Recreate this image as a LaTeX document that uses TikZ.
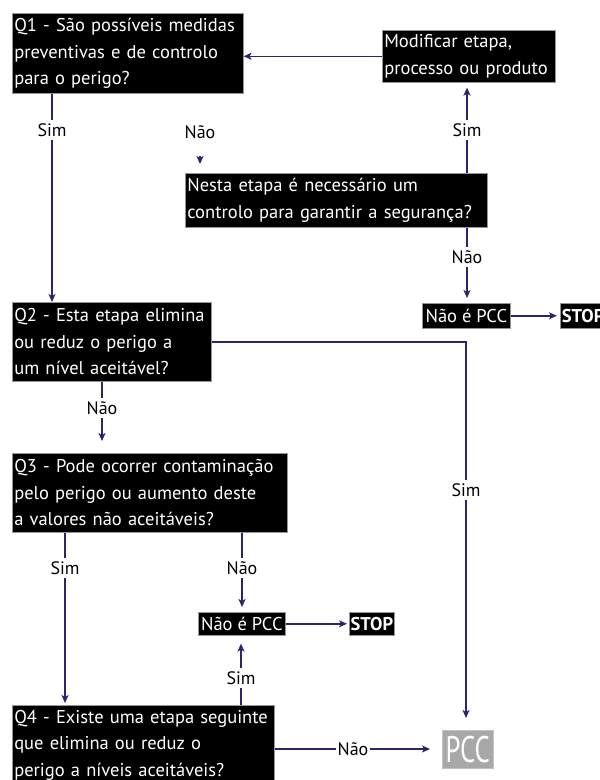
\documentclass[tikz,border=0pt]{standalone}
\usepackage{fontspec}
\usepackage{graphicx}
\setmainfont{PT Sans}
\usetikzlibrary{arrows.meta}

\definecolor{flow}{RGB}{46,36,110}
\definecolor{boxedge}{RGB}{150,150,150}
\definecolor{pccgray}{RGB}{168,168,168}

\newcommand\boxfont{\fontsize{18.5}{26.5}\selectfont}
\newcommand\lblfont{\fontsize{18}{20}\selectfont}

\tikzset{
  qbox/.style={draw=boxedge, line width=0.6pt, fill=black, text=white,
    align=left, anchor=north west, inner xsep=2pt, inner ysep=0pt, font=\boxfont},
  sbox/.style={draw=boxedge, line width=0.6pt, fill=black, text=white,
    anchor=north west, inner sep=0pt, font=\boxfont},
  lbl/.style={text=black, inner xsep=1pt, inner ysep=3pt, font=\lblfont},
  flowline/.style={draw=flow, line width=1.4pt},
  flowarrow/.style={flowline, -{Stealth[length=8pt,width=7pt,inset=2pt]}},
}

\begin{document}
\begin{tikzpicture}[x=1pt, y=-1pt]
\useasboundingbox (0,0) rectangle (600,780);

% question boxes
\node[qbox, text width=227pt, minimum height=80pt] (q1) at (12,13)
  {Q1 - São possíveis medidas\\preventivas e de controlo\\para o perigo?};
\node[qbox, text width=169pt, minimum height=52pt] (mod) at (382,30)
  {Modificar etapa,\\processo ou produto};
\node[qbox, text width=298pt, minimum height=54pt] (nesta) at (185,173)
  {Nesta etapa é necessário um\\controlo para garantir a segurança?};
\node[qbox, text width=195pt, minimum height=79pt] (q2) at (12,302)
  {Q2 - Esta etapa elimina\\ou reduz o perigo a\\um nível aceitável?};
\node[qbox, text width=271pt, minimum height=79pt] (q3) at (12,453)
  {Q3 - Pode ocorrer contaminação\\pelo perigo ou aumento deste\\a valores não aceitáveis?};
\node[qbox, text width=258pt, minimum height=80pt] (q4) at (12,705)
  {Q4 - Existe uma etapa seguinte\\que elimina ou reduz o\\perigo a níveis aceitáveis?};

% outcome boxes
\node[sbox, minimum width=88pt, minimum height=25pt] (npcc1) at (422,303) {Não é PCC};
\node[sbox, inner xsep=1.5pt, minimum height=25pt, font=\boxfont\bfseries] (stop1) at (560,303) {STOP};
\node[sbox, minimum width=87pt, minimum height=23pt] (npcc2) at (198,612) {Não é PCC};
\node[sbox, minimum width=45pt, minimum height=23pt, font=\boxfont\bfseries] (stop2) at (349,612) {STOP};
\node[sbox, draw=pccgray!70, fill=pccgray, minimum width=51pt, minimum height=38pt,
  font=\fontsize{37}{37}\selectfont] (pcc) at (442,730) {\scalebox{0.72}[1]{PCC}};

% branch labels
\node[lbl] (s1) at (52,130) {Sim};
\node[lbl] (n1) at (200,132) {Não};
\node[lbl] (s2) at (467,130) {Sim};
\node[lbl] (n2) at (467,257) {Não};
\node[lbl] (n3) at (102,408) {Não};
\node[lbl] (s3) at (466,490) {Sim};
\node[lbl] (s4) at (65,568) {Sim};
\node[lbl] (n4) at (242,568) {Não};
\node[lbl] (s5) at (241,678) {Sim};
\node[lbl] (n5) at (353,749) {Não};

% Q1
\draw[flowline] (s1 |- q1.south) -- (s1.north);
\draw[flowarrow] (s1.south) -- (s1 |- q2.north);
\draw[flowarrow] ([yshift=-24pt]n1.center) -- ([yshift=-32pt]n1.center);

% control step question
\draw[flowline] (s2 |- nesta.north) -- (s2.south);
\draw[flowarrow, shorten >=5pt] (s2.north) -- (s2 |- mod.south);
\draw[flowarrow] (mod.west) -- (mod.west -| q1.east);
\draw[flowline] (n2 |- nesta.south) -- (n2.north);
\draw[flowarrow, shorten >=5pt] (n2.south) -- (n2 |- npcc1.north);
\draw[flowarrow, shorten >=3pt] (npcc1.east) -- (stop1.west);

% Q2
\draw[flowline] (q2.east) -| (s3.north);
\draw[flowarrow, shorten >=12pt] (s3.south) -- (s3 |- pcc.north);
\draw[flowline] (n3 |- q2.south) -- (n3.north);
\draw[flowarrow, shorten >=12pt] (n3.south) -- (n3 |- q3.north);

% Q3
\draw[flowline] (s4 |- q3.south) -- (s4.north);
\draw[flowarrow, shorten >=2pt] (s4.south) -- (s4 |- q4.north);
\draw[flowline] (n4 |- q3.south) -- (n4.north);
\draw[flowarrow, shorten >=5pt] (n4.south) -- (n4 |- npcc2.north);
\draw[flowarrow, shorten >=2pt] (npcc2.east) -- (stop2.west);

% Q4
\draw[flowline] (s5 |- q4.north) -- (s5.south);
\draw[flowarrow, shorten >=8pt] (s5.north) -- (s5 |- npcc2.south);
\draw[flowline] (q4.east |- n5) -- (n5.west);
\draw[flowarrow, shorten >=12pt] (n5.east) -- (n5 -| pcc.west);
\end{tikzpicture}
\end{document}
